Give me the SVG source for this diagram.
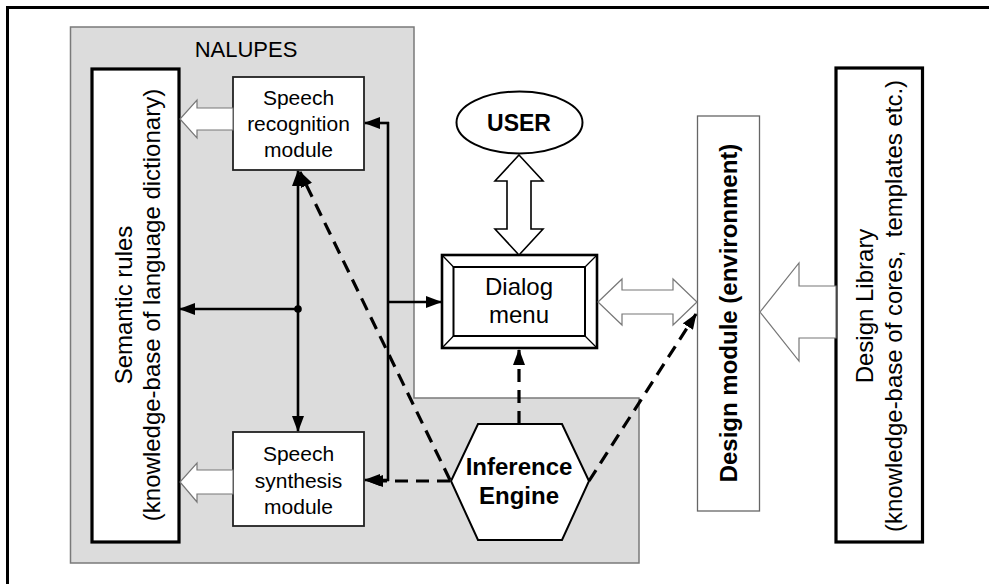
<svg xmlns="http://www.w3.org/2000/svg" width="989" height="584" viewBox="0 0 989 584">
<style>
text{font-family:"Liberation Sans",Arial,sans-serif;fill:#000}
.lbl{font-size:21px;text-anchor:middle}
.big{font-size:24px;text-anchor:middle}
.bold{font-weight:bold}
.box{fill:#fff;stroke:#222;stroke-width:1.8}
.thick{fill:#fff;stroke:#000;stroke-width:3.2}
.hollow{fill:#fff;stroke:#777;stroke-width:1.2}
.hollowk{fill:#fff;stroke:#000;stroke-width:1.6}
.solid{fill:none;stroke:#000;stroke-width:2.6}
.dash{fill:none;stroke:#000;stroke-width:3.2;stroke-dasharray:13 8}
</style>
<defs>
<marker id="ah" viewBox="0 0 16 12" refX="15" refY="6" markerWidth="16" markerHeight="12" markerUnits="userSpaceOnUse" orient="auto">
<path d="M0,0 L16,6 L0,12 z" fill="#000"/>
</marker>
</defs>
<rect width="989" height="584" fill="#fff"/>
<g id="frame">
<path d="M7.5,584 V7.5 H989" fill="none" stroke="#000" stroke-width="3"/>
</g>
<g id="nalupes">
<path d="M70.5,27 H414 V398 H639 V563 H70.5 Z" fill="#dcdcdc" stroke="#7a7a7a" stroke-width="1.5"/>
<text x="246" y="57" font-size="22" text-anchor="middle">NALUPES</text>
</g>
<g id="semantic">
<rect x="92" y="69" width="87" height="473" class="thick"/>
<text class="big" transform="translate(132,305) rotate(-90)">Semantic rules</text>
<text class="big" transform="translate(160,305) rotate(-90)">(knowledge-base of language dictionary)</text>
</g>
<g id="speech-recognition">
<rect x="233" y="77" width="131" height="93" class="box"/>
<text class="lbl" x="298.5" y="105">Speech</text>
<text class="lbl" x="298.5" y="131">recognition</text>
<text class="lbl" x="298.5" y="157">module</text>
</g>
<g id="speech-synthesis">
<rect x="233" y="432" width="131" height="94" class="box"/>
<text class="lbl" x="298.5" y="461">Speech</text>
<text class="lbl" x="298.5" y="488">synthesis</text>
<text class="lbl" x="298.5" y="514">module</text>
</g>
<g id="user">
<ellipse cx="519.5" cy="122.5" rx="63" ry="31" fill="#fff" stroke="#000" stroke-width="2"/>
<text class="bold" x="519" y="131" font-size="23" text-anchor="middle">USER</text>
</g>
<g id="dialog-menu">
<rect x="442" y="255" width="155" height="93" fill="#fff" stroke="#000" stroke-width="2.6"/>
<rect x="453.5" y="267" width="131.5" height="69" fill="#fff" stroke="#000" stroke-width="2"/>
<path d="M442,255 L453.5,267 M597,255 L585,267 M442,348 L453.5,336 M597,348 L585,336" stroke="#000" stroke-width="1.3"/>
<text class="big" x="519" y="295" font-size="23">Dialog</text>
<text class="big" x="519" y="323" font-size="23">menu</text>
</g>
<g id="inference-engine">
<polygon points="478,424 562,424 589,481 562,540 478,540 451,481" fill="#fff" stroke="#000" stroke-width="2"/>
<text class="big bold" x="519" y="475">Inference</text>
<text class="big bold" x="519" y="504">Engine</text>
</g>
<g id="design-module">
<rect x="697.5" y="116" width="62" height="395" fill="#fff" stroke="#666" stroke-width="1.3"/>
<text class="big bold" transform="translate(737,313) rotate(-90)">Design module (environment)</text>
</g>
<g id="design-library">
<rect x="836" y="68" width="86.5" height="474" class="thick"/>
<text class="big" transform="translate(873,306) rotate(-90)">Design Library</text>
<text class="big" transform="translate(902,306) rotate(-90)" xml:space="preserve">(knowledge-base of cores,  templates etc.)</text>
</g>
<g id="connectors">
<polygon class="hollow" points="233,108 197,108 197,100 180,119 197,138 197,130 233,130"/>
<polygon class="hollow" points="233,470 197,470 197,463 180,482 197,502 197,494 233,494"/>
<polygon class="hollowk" points="519,155 543,181 531,181 531,229 543,229 519,255 495,229 507,229 507,181 495,181"/>
<polygon class="hollow" points="598,302 622,279 622,290 673,290 673,279 697,302 673,325 673,314 622,314 622,325"/>
<polygon class="hollow" points="836,286 799,286 799,263 760,312 799,361 799,338 836,338"/>
<line class="solid" x1="298" y1="309" x2="298" y2="171" marker-end="url(#ah)"/>
<line class="solid" x1="298" y1="309" x2="298" y2="431" marker-end="url(#ah)"/>
<line class="solid" x1="298" y1="309" x2="180" y2="309" marker-end="url(#ah)"/>
<circle cx="298" cy="309" r="3.8" fill="#000"/>
<line class="solid" x1="388" y1="122" x2="388" y2="481"/>
<line class="solid" x1="389" y1="123" x2="365" y2="123" marker-end="url(#ah)"/>
<line class="solid" x1="389" y1="480" x2="365" y2="480" marker-end="url(#ah)"/>
<line class="solid" x1="388" y1="302" x2="441" y2="302" marker-end="url(#ah)"/>
<line class="dash" x1="519" y1="424" x2="519" y2="350" marker-end="url(#ah)"/>
<line class="dash" x1="450" y1="480" x2="300" y2="172" marker-end="url(#ah)"/>
<line class="dash" x1="450" y1="481" x2="368" y2="481" marker-end="url(#ah)"/>
<line class="dash" x1="589" y1="481" x2="696" y2="314" marker-end="url(#ah)"/>
</g>
</svg>
